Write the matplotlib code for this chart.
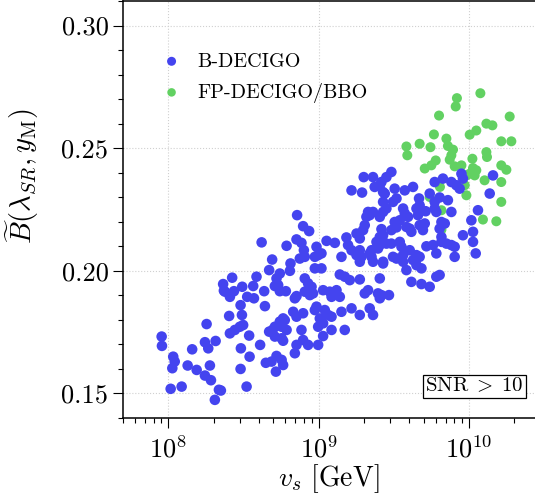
import numpy as np
import matplotlib
matplotlib.use("Agg")
import matplotlib.pyplot as plt

plt.rcParams['font.family'] = 'serif'
plt.rcParams['font.serif'] = ['cmr10']
plt.rcParams['mathtext.fontset'] = 'cm'
plt.rcParams['axes.formatter.use_mathtext'] = True

# ---------------------------------------------------------
# data: log10(v_s / GeV) and B-tilde
# ---------------------------------------------------------
b_logvs = [
    7.956, 7.958, 8.033, 8.043, 8.027, 8.016, 8.089, 8.129, 8.189, 8.159,
    8.244, 8.266, 8.315, 8.277, 8.244, 8.284, 8.337, 8.350, 8.310, 8.255,
    8.405, 8.481, 8.490, 8.410, 8.443, 8.476, 8.498, 8.538, 8.483, 8.541,
    8.481, 8.521, 8.611, 8.649, 8.643, 8.570, 8.525, 8.410, 8.377, 8.671,
    8.857, 8.621, 8.787, 8.853, 8.875, 8.691, 8.813, 8.809, 8.671, 8.742,
    8.720, 8.709, 8.425, 8.365, 8.370, 8.437, 8.492, 8.587, 8.565, 8.638,
    8.742, 8.782, 8.842, 8.853, 8.764, 8.831, 8.853,
    9.300, 9.362, 9.451, 9.407, 9.373, 9.219, 9.289, 9.429, 8.897, 8.937,
    9.329, 9.340, 9.318, 9.429, 9.307, 9.296, 9.418, 9.252, 9.274, 8.886,
    8.902, 8.986, 8.997, 9.053, 9.108, 9.185, 9.196, 9.219, 9.385, 9.395,
    9.429, 9.274, 9.285, 9.152, 9.352, 9.451, 8.908, 8.975,
    9.019, 9.252, 9.274, 9.340, 9.362, 9.407, 9.429, 8.975, 9.019, 9.141,
    9.174, 9.207, 9.274, 9.407, 8.731, 8.908, 8.930, 8.953, 8.908, 8.942,
    8.963, 9.030, 9.074, 9.119, 9.141, 9.086, 9.329, 9.307, 9.395, 9.407,
    8.986, 8.975, 9.041, 9.063, 9.086, 9.152, 9.219, 9.274, 9.340, 9.362,
    8.897, 8.775, 8.742, 8.709, 8.694, 8.709, 8.754, 8.886, 9.008, 9.030,
    8.997, 9.086, 9.174, 9.030, 8.853, 8.897, 8.930, 8.997, 8.754, 8.787,
    8.764, 8.842, 8.687, 8.720, 8.754, 8.764, 8.716,
    9.418, 9.484, 9.506, 9.518, 9.495, 9.573, 9.628, 9.440, 9.429, 9.668,
    9.672, 9.739, 9.772, 9.805, 9.860, 9.772, 9.827, 9.883, 9.916, 9.938,
    9.950, 9.960, 10.160, 10.138, 9.362, 9.451, 9.407, 9.562, 9.573, 9.595,
    9.651, 9.661, 9.712, 9.772, 9.783, 9.883, 10.060, 10.016, 9.540, 9.506,
    9.518, 9.484, 9.407, 9.584, 9.606, 9.617, 9.672, 9.706, 9.694, 9.817,
    9.839, 9.805, 10.027, 10.027, 9.960, 9.817, 9.817, 9.850, 9.883, 9.905,
    9.717, 9.761, 9.783, 9.540, 9.551, 9.484, 9.606, 9.651, 9.672, 9.628,
    9.495, 9.518, 9.562, 9.352, 9.429, 9.905, 10.045, 9.562, 9.651, 9.684,
    9.584, 9.783, 9.805, 9.617, 9.684, 9.739, 9.418, 9.468,
]
b_btilde = [
    0.1732, 0.1694, 0.1650, 0.1630, 0.1603, 0.1519, 0.1528, 0.1614, 0.1596, 0.1680,
    0.1709, 0.1684, 0.1714, 0.1614, 0.1573, 0.1554, 0.1515, 0.1512, 0.1474, 0.1783,
    0.1816, 0.1860, 0.1820, 0.1745, 0.1759, 0.1772, 0.1779, 0.1736, 0.1684, 0.1650,
    0.1600, 0.1528, 0.1698, 0.1625, 0.1856, 0.1888, 0.1894, 0.1894, 0.1915, 0.1752,
    0.2227, 0.2116, 0.2102, 0.2128, 0.2050, 0.2046, 0.2030, 0.2000, 0.2003, 0.1989,
    0.1969, 0.1938, 0.1972, 0.1946, 0.1919, 0.1917, 0.1935, 0.1976, 0.1938, 0.1917,
    0.1917, 0.1917, 0.1888, 0.1897, 0.1806, 0.1833, 0.1813,
    0.2382, 0.2382, 0.2382, 0.2349, 0.2342, 0.2328, 0.2319, 0.2321, 0.2182, 0.2162,
    0.2240, 0.2227, 0.2220, 0.2240, 0.2186, 0.2166, 0.2170, 0.2152, 0.2132, 0.2114,
    0.2084, 0.2098, 0.2064, 0.2122, 0.2114, 0.2136, 0.2105, 0.2084, 0.2118, 0.2091,
    0.2145, 0.2084, 0.2057, 0.2057, 0.2057, 0.2111, 0.2057, 0.2057,
    0.2071, 0.2064, 0.2037, 0.2071, 0.2037, 0.2105, 0.2037, 0.2010, 0.2010, 0.1985,
    0.1976, 0.1962, 0.1965, 0.1969, 0.1942, 0.1969, 0.1949, 0.1935, 0.1915, 0.1901,
    0.1908, 0.1921, 0.1915, 0.1921, 0.1894, 0.1894, 0.1921, 0.1908, 0.1908, 0.1888,
    0.1854, 0.1840, 0.1840, 0.1820, 0.1813, 0.1833, 0.1847, 0.1820, 0.1847, 0.1820,
    0.1827, 0.1799, 0.1793, 0.1772, 0.1759, 0.1732, 0.1725, 0.1759, 0.1806, 0.1786,
    0.1772, 0.1759, 0.1759, 0.1734, 0.1698, 0.1718, 0.1698, 0.1698, 0.1772, 0.1759,
    0.1715, 0.1664, 0.1630, 0.1653, 0.1637, 0.1616, 0.1589,
    0.2362, 0.2403, 0.2335, 0.2295, 0.2281, 0.2328, 0.2342, 0.2315, 0.2281, 0.2295,
    0.2267, 0.2315, 0.2281, 0.2299, 0.2288, 0.2362, 0.2376, 0.2362, 0.2349, 0.2335,
    0.2396, 0.2376, 0.2389, 0.2315, 0.2240, 0.2254, 0.2220, 0.2254, 0.2234, 0.2220,
    0.2254, 0.2227, 0.2243, 0.2254, 0.2240, 0.2240, 0.2247, 0.2206, 0.2206, 0.2199,
    0.2177, 0.2166, 0.2138, 0.2179, 0.2172, 0.2159, 0.2186, 0.2193, 0.2166, 0.2199,
    0.2193, 0.2172, 0.2159, 0.2118, 0.2145, 0.2138, 0.2118, 0.2111, 0.2105, 0.2098,
    0.2100, 0.2105, 0.2071, 0.2118, 0.2098, 0.2111, 0.2084, 0.2064, 0.2057, 0.2044,
    0.2057, 0.2050, 0.2064, 0.2084, 0.2030, 0.2057, 0.2071, 0.2037, 0.2023, 0.2010,
    0.2003, 0.1976, 0.1983, 0.1955, 0.1946, 0.1935, 0.1901, 0.1901,
]

g_logvs = [
    10.076, 9.920, 9.912, 9.801, 10.271, 10.116, 10.156, 10.049, 10.005, 9.767,
    9.672, 9.584, 9.590, 9.744, 9.850, 9.860, 9.894, 9.883, 9.872, 10.215,
    10.282, 10.116, 10.120, 10.023, 9.779, 9.750, 9.706, 9.950, 9.905, 10.027,
    10.049, 10.215, 10.249, 10.005, 10.038, 9.983, 10.104, 10.215, 9.972, 9.983,
    10.215, 9.817, 10.093, 10.182, 9.817, 9.807, 9.739,
]
g_btilde = [
    0.2724, 0.2704, 0.2670, 0.2633, 0.2629, 0.2600, 0.2593, 0.2572, 0.2555, 0.2556,
    0.2518, 0.2507, 0.2471, 0.2504, 0.2539, 0.2509, 0.2494, 0.2471, 0.2453, 0.2528,
    0.2528, 0.2484, 0.2464, 0.2457, 0.2450, 0.2430, 0.2417, 0.2430, 0.2426, 0.2419,
    0.2410, 0.2430, 0.2412, 0.2396, 0.2389, 0.2389, 0.2369, 0.2362, 0.2349, 0.2308,
    0.2281, 0.2247, 0.2209, 0.2202, 0.2168, 0.2342, 0.2301,
]

b_vs = 10 ** np.array(b_logvs)
g_vs = 10 ** np.array(g_logvs)

blue = '#4444ef'
green = '#62d162'

fig = plt.figure(figsize=(5.35, 4.94), dpi=100)
ax = fig.add_axes([123 / 535, 76 / 494, 412 / 535, 417 / 494])

ax.scatter(g_vs, g_btilde, s=52, color=green, edgecolors='none', zorder=3, label='FP-DECIGO/BBO')
ax.scatter(b_vs, b_btilde, s=58, color=blue, edgecolors='none', zorder=4, label='B-DECIGO')

ax.set_xscale('log')
ax.set_xlim(5e7, 2.75e10)
ax.set_ylim(0.14, 0.31)
ax.set_yticks([0.15, 0.20, 0.25, 0.30])
ax.set_yticklabels(['0.15', '0.20', '0.25', '0.30'])
ax.set_yticks(np.arange(0.14, 0.311, 0.01), minor=True)

ax.grid(True, which='major', linestyle=':', color='#d0d0d0', linewidth=0.8)
ax.set_axisbelow(True)

ax.spines['right'].set_visible(False)
for sp in ['left', 'bottom', 'top']:
    ax.spines[sp].set_linewidth(1.1)

ax.tick_params(axis='both', which='major', direction='out', length=7, width=0.8,
               labelsize=19, top=False, right=False)
ax.tick_params(axis='both', which='minor', direction='out', length=3.5, width=0.8,
               top=False, right=False)
ax.tick_params(axis='x', which='major', pad=6)

ax.set_xlabel(r'$v_s\ [\mathrm{GeV}]$', fontsize=20)
ax.set_ylabel(r'$\widetilde{B}(\lambda_{SR},y_{\mathrm{M}})$', fontsize=20.5)
ax.yaxis.set_label_coords(-0.20, 0.58)
ax.xaxis.set_label_coords(0.5, -0.105)

handles, labels = ax.get_legend_handles_labels()
ax.legend(handles[::-1], labels[::-1], loc='upper left', bbox_to_anchor=(0.025, 0.92),
          frameon=False, fontsize=14.5, handletextpad=0.3, markerscale=0.85,
          labelspacing=0.6)

ax.text(0.972, 0.076, r'$\mathrm{SNR}\;>\;10$', transform=ax.transAxes, fontsize=15,
        ha='right', va='center',
        bbox=dict(boxstyle='square,pad=0.1', facecolor='white', edgecolor='black', linewidth=0.9))

fig.savefig('out.png', dpi=100)
